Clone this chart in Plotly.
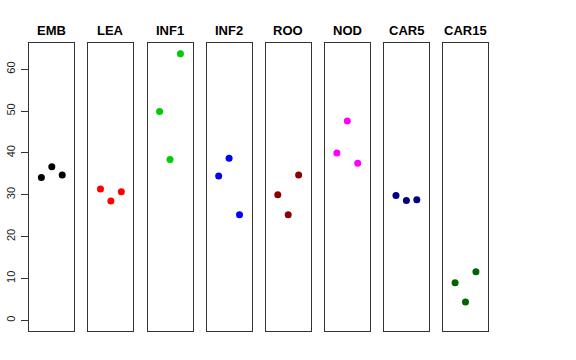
import plotly.graph_objects as go

categories = ["EMB", "LEA", "INF1", "INF2", "ROO", "NOD", "CAR5", "CAR15"]
values = {
    "EMB": [34.1, 36.7, 34.7],
    "LEA": [31.4, 28.5, 30.7],
    "INF1": [49.9, 38.4, 63.7],
    "INF2": [34.5, 38.7, 25.2],
    "ROO": [30.0, 25.2, 34.7],
    "NOD": [40.0, 47.6, 37.5],
    "CAR5": [29.8, 28.6, 28.8],
    "CAR15": [9.0, 4.4, 11.6],
}
colors = ["#000000", "#FF0000", "#00CD00", "#0000FF", "#8B0000", "#FF00FF", "#000080", "#006400"]
y_ticks = [0, 10, 20, 30, 40, 50, 60]
x_idx = [1, 2, 3]

W, H = 576, 360
left0, pw, step = 29.3, 45.0, 59.1
top_px, bot_px = 43.0, 331.0

ymax = max(max(v) for v in values.values())
yr = [0 - 0.04 * ymax, ymax + 0.04 * ymax]

fig = go.Figure()
layout = dict(width=W, height=H, margin=dict(l=0, r=0, t=0, b=0, autoexpand=False),
              paper_bgcolor="white", plot_bgcolor="white", showlegend=False,
              font=dict(family="Liberation Sans, Arial, sans-serif", color="black"))
annotations = []
for i, cat in enumerate(categories):
    n = i + 1
    xa = "x" if n == 1 else f"x{n}"
    ya = "y" if n == 1 else f"y{n}"
    fig.add_trace(go.Scatter(x=x_idx, y=values[cat], mode="markers", xaxis=xa, yaxis=ya,
                             marker=dict(color=colors[i], size=7)))
    x0 = (left0 + i * step) / W
    x1 = (left0 + i * step + pw) / W
    layout[f"xaxis{n if n > 1 else ''}"] = dict(
        domain=[x0, x1], range=[-0.16, 4.16], showticklabels=False, ticks="",
        showgrid=False, zeroline=False, showline=True, mirror=True, automargin=False,
        linecolor="#333333", linewidth=1, anchor=ya)
    ydict = dict(domain=[1 - bot_px / H, 1 - top_px / H], range=yr, showgrid=False,
                 zeroline=False, showline=True, mirror=True, linecolor="#333333",
                 linewidth=1, anchor=xa, automargin=False)
    if n == 1:
        ydict.update(tickvals=y_ticks, ticktext=[str(t) for t in y_ticks], ticks="outside",
                     ticklen=7, tickcolor="#333333", tickangle=-90,
                     tickfont=dict(size=11, color="#222222"), ticklabelstandoff=2)
    else:
        ydict.update(showticklabels=False, ticks="", matches="y")
    layout[f"yaxis{n if n > 1 else ''}"] = ydict
    annotations.append(dict(text=f"<b>{cat}</b>", x=(x0 + x1) / 2, y=1 - 30 / H,
                            xref="paper", yref="paper", showarrow=False,
                            xanchor="center", yanchor="middle",
                            font=dict(size=13, color="black")))
layout["annotations"] = annotations
fig.update_layout(**layout)
fig.write_html("out.html", config={"displayModeBar": False},
               post_script="document.body.style.margin='0';")
